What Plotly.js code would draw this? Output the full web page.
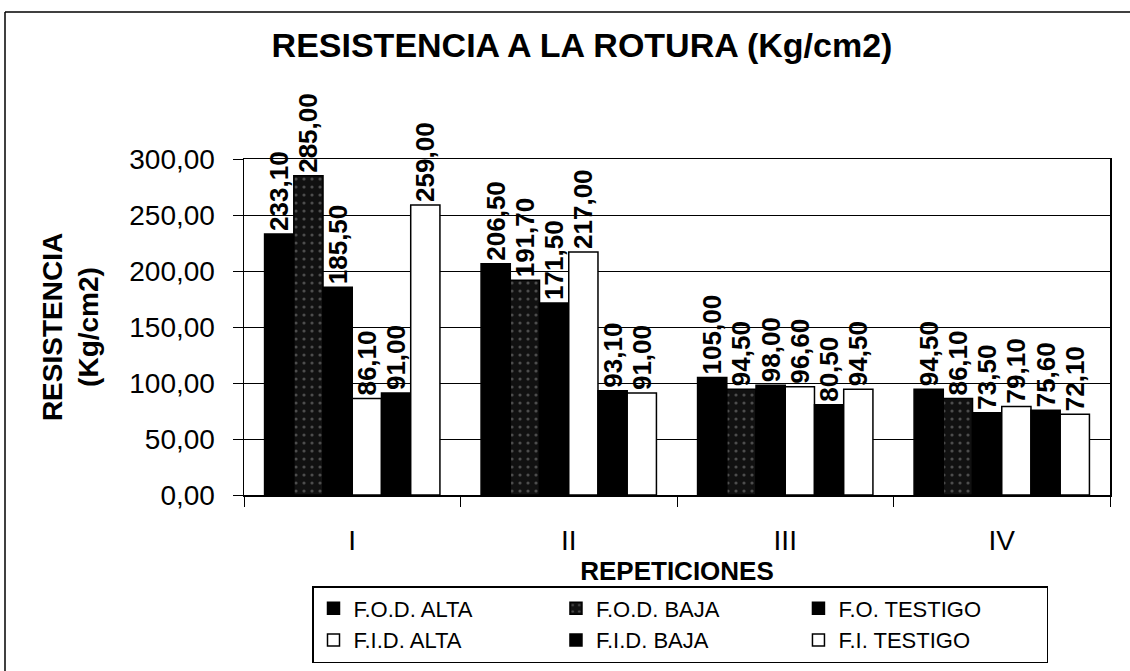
<!DOCTYPE html>
<html>
<head>
<meta charset="utf-8">
<script src="https://cdn.plot.ly/plotly-3.0.1.min.js"></script>
<style>html,body{margin:0;padding:0;background:#fff;}#chart{width:1130px;height:671px;}</style>
</head>
<body>
<div id="chart"></div>
<script>
const categories = ["I", "II", "III", "IV"];
const seriesNames = ["F.O.D. ALTA", "F.O.D. BAJA", "F.O. TESTIGO", "F.I.D. ALTA", "F.I.D. BAJA", "F.I. TESTIGO"];
const fodAlta    = [233.10, 206.50, 105.00, 94.50];
const fodBaja    = [285.00, 191.70, 94.50, 86.10];
const foTestigo  = [185.50, 171.50, 98.00, 73.50];
const fidAlta    = [86.10, 217.00, 96.60, 79.10];
const fidBaja    = [91.00, 93.10, 80.50, 75.60];
const fiTestigo  = [259.00, 91.00, 94.50, 72.10];
const yTicks = [0, 50, 100, 150, 200, 250, 300];

const seriesValues = [fodAlta, fodBaja, foTestigo, fidAlta, fidBaja, fiTestigo];
const fills = ["#000000", "#111111", "#000000", "#ffffff", "#000000", "#ffffff"];
const FONT = "Liberation Sans, Arial, sans-serif";

const traces = seriesValues.map((vals, i) => {
  const t = {
    type: "bar",
    name: seriesNames[i],
    x: categories,
    y: vals,
    marker: { color: fills[i], line: { color: "#000", width: 1.5 } },
    texttemplate: "%{y:.2f}",
    textposition: "outside",
    textangle: -90,
    constraintext: "none",
    cliponaxis: false,
    textfont: { family: FONT, size: 26, color: "#000", weight: "bold" },
    hoverinfo: "skip"
  };
  if (i === 1) {
    t.marker.pattern = { shape: ".", fgcolor: "#8a8a8a", bgcolor: "#111111", size: 8, solidity: 0.12, fillmode: "overlay" };
  }
  return t;
});

const L = 244, R = 1110, T = 159, B = 495;
const pw = R - L, ph = B - T;
const px = v => (v - L) / pw;
const py = v => (B - v) / ph;

const layout = {
  width: 1130, height: 671,
  margin: { l: L, r: 1130 - R, t: T, b: 671 - B, pad: 0 },
  paper_bgcolor: "#fff", plot_bgcolor: "#fff",
  separators: ",.",
  barmode: "group",
  bargap: 0.19,
  bargroupgap: 0,
  font: { family: FONT, color: "#000" },
  title: {
    text: "<b>RESISTENCIA A LA ROTURA (Kg/cm2)</b>",
    font: { family: FONT, size: 34, color: "#000" },
    x: px(582), xanchor: "center", xref: "paper",
    y: 1 - 45 / 671, yanchor: "middle", yref: "container"
  },
  xaxis: {
    type: "category",
    showline: true, linecolor: "#000", linewidth: 1.5, mirror: true,
    ticks: "outside", tickson: "boundaries", ticklen: 10, tickcolor: "#000", tickwidth: 1,
    ticklabelstandoff: 20,
    tickfont: { family: FONT, size: 28, color: "#000" },
    showgrid: false,
    automargin: false,
    title: { text: "<b>REPETICIONES</b>", font: { family: FONT, size: 26, color: "#000" }, standoff: 4 }
  },
  yaxis: {
    range: [0, 300],
    tickvals: yTicks,
    tickformat: ".2f",
    showline: true, linecolor: "#000", linewidth: 1.5, mirror: true,
    ticks: "outside", ticklen: 10, tickcolor: "#000", tickwidth: 1,
    ticklabelstandoff: 12,
    tickfont: { family: FONT, size: 28, color: "#000" },
    showgrid: true, gridcolor: "#000", gridwidth: 1,
    zeroline: false,
    automargin: false,
    title: { text: "<b>RESISTENCIA<br>(Kg/cm2)</b>", font: { family: FONT, size: 28, color: "#000" }, standoff: 22 }
  },
  showlegend: true,
  legend: {
    orientation: "h",
    xref: "paper", x: px(312), xanchor: "left",
    yref: "container", y: 1 - 586 / 671, yanchor: "top",
    entrywidth: 0.28, entrywidthmode: "fraction",
    bgcolor: "#fff", bordercolor: "#000", borderwidth: 1.5,
    font: { family: FONT, size: 22, color: "#000" },
    traceorder: "normal",
    itemclick: false, itemdoubleclick: false
  },
  shapes: [
    { type: "line", xref: "paper", yref: "paper", x0: px(5), x1: px(5), y0: py(12), y1: py(671), line: { color: "#000", width: 1.5 } },
    { type: "line", xref: "paper", yref: "paper", x0: px(5), x1: px(1130), y0: py(12), y1: py(12), line: { color: "#000", width: 1.5 } }
  ]
};

Plotly.newPlot("chart", traces, layout, { staticPlot: true, displayModeBar: false });
</script>
</body>
</html>
